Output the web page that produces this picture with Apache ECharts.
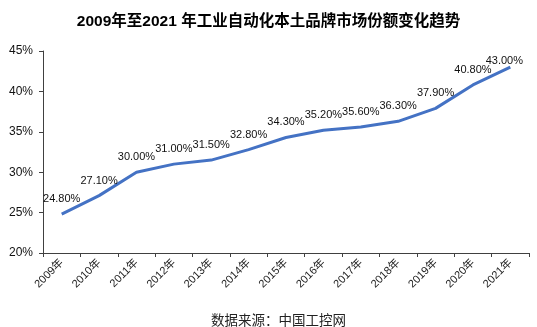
<!DOCTYPE html>
<html>
<head>
<meta charset="utf-8">
<script src="https://cdn.jsdelivr.net/npm/echarts@6/dist/echarts.min.js"></script>
<style>
html,body{margin:0;padding:0;background:#fff;}
#c{width:537px;height:327px;}
</style>
</head>
<body>
<div id="c"></div>
<script>
const categories = ['2009年','2010年','2011年','2012年','2013年','2014年','2015年','2016年','2017年','2018年','2019年','2020年','2021年'];
const shares = [24.8, 27.1, 30.0, 31.0, 31.5, 32.8, 34.3, 35.2, 35.6, 36.3, 37.9, 40.8, 43.0];
const yTicks = [20, 25, 30, 35, 40, 45];
const titleText = '2009年至2021 年工业自动化本土品牌市场份额变化趋势';
const sourceText = '数据来源：中国工控网';

const font = '"Liberation Sans", Arial, "Noto Sans CJK SC", sans-serif';
const chart = echarts.init(document.getElementById('c'), null, {renderer: 'canvas'});
const seriesData = shares.map((v, i) => {
  const item = {value: v};
  if (i === shares.length - 1) item.label = {offset: [-6, 9]};
  return item;
});
chart.setOption({
  animation: false,
  backgroundColor: '#fff',
  title: [{
    text: titleText,
    left: 'center', top: 9,
    textStyle: {fontFamily: font, fontSize: 15.5, fontWeight: 'bold', color: '#000'}
  }, {
    text: sourceText,
    left: 206, top: 308,
    textStyle: {fontFamily: '"Noto Sans CJK SC", sans-serif', fontSize: 13.5, fontWeight: 'normal', color: '#222'}
  }],
  grid: {left: 43, right: 8, top: 51, bottom: 74, containLabel: false},
  xAxis: {
    type: 'category',
    data: categories,
    boundaryGap: true,
    axisLine: {lineStyle: {color: '#404040', width: 1}},
    axisTick: {show: true, alignWithLabel: false, length: 4, lineStyle: {color: '#404040'}},
    axisLabel: {rotate: 45, margin: 8, fontFamily: font, fontSize: 11, color: '#222', interval: 0}
  },
  yAxis: {
    type: 'value',
    min: yTicks[0], max: yTicks[yTicks.length - 1], interval: 5,
    axisLine: {show: true, lineStyle: {color: '#404040', width: 1}},
    axisTick: {show: true, length: 4, lineStyle: {color: '#404040'}},
    splitLine: {show: false},
    axisLabel: {formatter: v => v + '%', fontFamily: font, fontSize: 12, color: '#111', margin: 10}
  },
  series: [{
    type: 'line',
    data: seriesData,
    showSymbol: true,
    symbol: 'circle',
    symbolSize: 1,
    itemStyle: {color: 'rgba(0,0,0,0)'},
    lineStyle: {color: '#4472C4', width: 3},
    label: {
      show: true, position: 'top', distance: 9,
      formatter: p => p.value.toFixed(2) + '%',
      fontFamily: font, fontSize: 11, color: '#111'
    }
  }]
});
</script>
</body>
</html>
